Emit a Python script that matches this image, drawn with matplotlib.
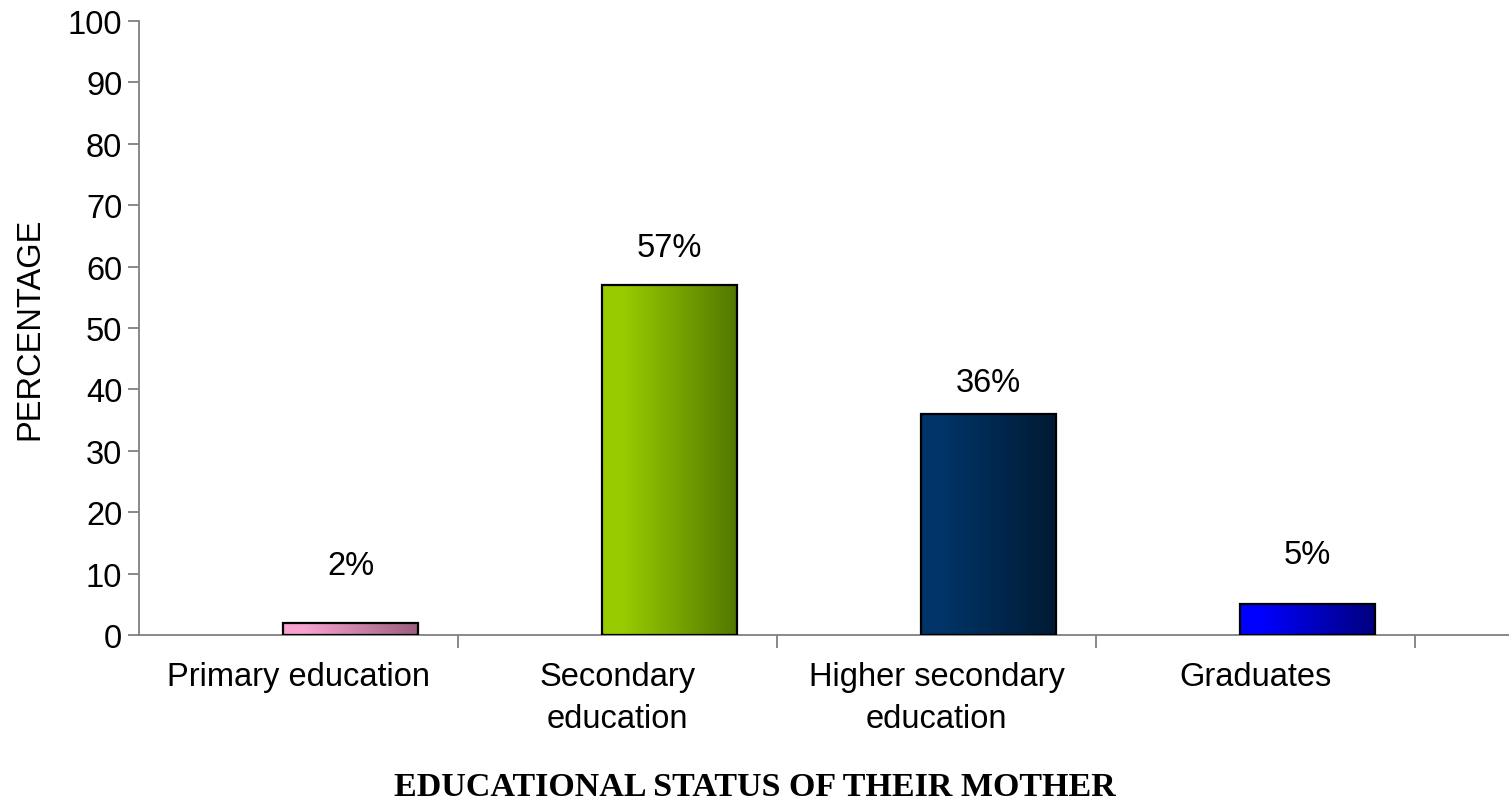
import numpy as np
import matplotlib.pyplot as plt
from matplotlib.colors import LinearSegmentedColormap

plt.rcParams['font.family'] = ['Liberation Sans', 'DejaVu Sans']

categories = ['Primary education', 'Secondary\neducation',
              'Higher secondary\neducation', 'Graduates']
percent = [2, 57, 36, 5]
# left -> right shading of each bar
bar_colors = [('#f7a3d0', '#9c5f7e'),
              ('#99cc00', '#537800'),
              ('#003468', '#001a33'),
              ('#0000ff', '#00007e')]
# distance of each value label above its bar, in points
label_lift = [41, 27, 23, 36]

fig = plt.figure(figsize=(15.09, 8.04), dpi=100)
ax = fig.add_axes([139 / 1509, 1 - 636 / 804, 1 - 139 / 1509, (636 - 22) / 804])

x = np.arange(len(categories))
offset = 0.163
width = 0.423

bars = ax.bar(x + offset, percent, width, facecolor='none',
              edgecolor='black', linewidth=1.6, zorder=3)

grad = np.linspace(0, 1, 256).reshape(1, -1)
for b, (c1, c2) in zip(bars, bar_colors):
    cmap = LinearSegmentedColormap.from_list(
        'bar', [(0, c1), (0.15, c1), (1, c2)], N=256)
    x0, y0 = b.get_x(), b.get_y()
    im = ax.imshow(grad, cmap=cmap, aspect='auto', zorder=2,
                   extent=[x0, x0 + b.get_width(), y0, y0 + b.get_height()])
    im.set_clip_path(b)

for xi, v, lift in zip(x, percent, label_lift):
    ax.annotate(f'{v}%', (xi + offset, v), xytext=(0, lift),
                textcoords='offset points', ha='center', va='center',
                fontsize=23.5)

ax.set_xlim(-0.5, -0.5 + (1509 - 139) / 319)
ax.set_ylim(0, 100)
ax.set_yticks(range(0, 101, 10))

ax.set_xticks(x, categories, fontsize=23.5, linespacing=1.45)
ax.set_xticks(np.arange(0.5, 4, 1), minor=True)
ax.tick_params(axis='x', which='major', length=0, pad=19)
ax.tick_params(axis='x', which='minor', length=9, color='#808080', width=1.3)
ax.tick_params(axis='y', labelsize=23.5, length=8, color='#808080', width=1.3, pad=4)

for s in ['top', 'right']:
    ax.spines[s].set_visible(False)
for s in ['left', 'bottom']:
    ax.spines[s].set_color('#808080')
    ax.spines[s].set_linewidth(1.3)

ax.set_ylabel('PERCENTAGE', fontsize=23.5, labelpad=16)
fig.text(0.5, 1 - 788 / 804, 'EDUCATIONAL STATUS OF THEIR MOTHER',
         ha='center', va='center', fontsize=24.5, fontweight='bold',
         family='Liberation Serif')

fig.savefig('out.png', dpi=100)
